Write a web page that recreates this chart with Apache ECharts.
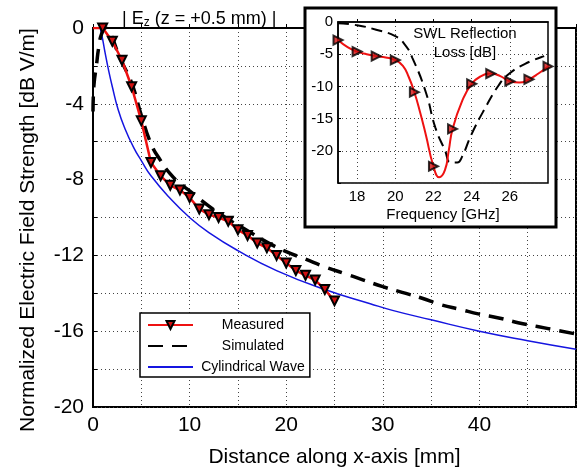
<!DOCTYPE html>
<html><head><meta charset="utf-8">
<script src="https://cdn.jsdelivr.net/npm/echarts@6/dist/echarts.min.js"></script>
<style>html,body{margin:0;padding:0;background:#fff}#c{width:580px;height:470px}</style>
</head><body><div id="c"></div>
<script>
// ---- Main chart data (distance in mm, field in dB V/m) ----
const measuredX = [0, 1, 2, 3, 4, 5, 6, 7, 8, 9, 10, 11, 12, 13, 14, 15, 16, 17, 18, 19, 20, 21, 22, 23, 24, 25];
const measuredY = [0, 0, -0.7, -1.7, -3.1, -4.9, -7.1, -7.8, -8.3, -8.55, -8.95, -9.55, -9.85, -10.0, -10.2, -10.65, -10.95, -11.35, -11.6, -12.0, -12.4, -12.8, -13.05, -13.3, -13.8, -14.4];

const simulatedX = [0, 0.1, 0.35, 0.6, 0.9, 1.3, 1.8, 2.5, 3, 4, 5, 6, 7, 8, 9, 10, 12, 14, 16, 18, 20, 22, 24, 26, 28, 30, 32, 34, 36, 38, 40, 42, 44, 46, 48, 50];
const simulatedY = [-4.4, -3.0, -2.0, -1.0, -0.3, 0, -0.3, -1.2, -1.8, -2.9, -4.6, -6.1, -7.0, -7.7, -8.2, -8.6, -9.4, -10.1, -10.7, -11.3, -11.8, -12.2, -12.6, -12.95, -13.3, -13.65, -13.95, -14.25, -14.6, -14.85, -15.1, -15.3, -15.55, -15.75, -15.95, -16.15];

const cylX = [0.75, 1.0, 1.25, 1.6, 2.0, 2.6, 3.3, 4.2, 5.0, 6.0, 8.0, 10, 12, 15, 19, 24, 28.7, 31, 35, 40, 45, 50];
const cylY = [0, -0.6, -1.3, -2.2, -3.1, -4.3, -5.3, -6.3, -7.0, -7.8, -9.0, -10.0, -10.8, -11.75, -12.8, -13.8, -14.55, -14.9, -15.4, -16.0, -16.5, -16.95];

// ---- Inset data (frequency in GHz, loss in dB) ----
const insetMarkF = [17, 18, 19, 20, 21, 22, 23, 24, 25, 26, 27, 28];
const insetMarkY = [-2.8, -4.6, -5.3, -5.9, -10.9, -22.4, -16.6, -9.6, -8.0, -9.2, -8.9, -6.9];

const insetCurveF = [17, 17.5, 18, 18.5, 19, 19.5, 20, 20.4, 20.7, 21, 21.3, 21.6, 22, 22.3, 22.6, 22.8, 23, 23.5, 24, 24.5, 25, 25.5, 26, 26.5, 27, 27.5, 28];
const insetCurveY = [-2.8, -3.9, -4.6, -5.0, -5.3, -5.5, -5.9, -6.8, -8.5, -10.9, -14.0, -17.5, -22.4, -24.1, -23.0, -20.0, -16.6, -12.3, -9.6, -8.4, -8.0, -8.4, -9.2, -9.4, -8.9, -8.0, -6.9];

const insetSimF = [17, 18, 19, 20, 20.5, 20.9, 21.6, 22.1, 22.6, 22.9, 23.25, 23.5, 24.0, 24.7, 25.4, 25.9, 26.8, 27.8];
const insetSimY = [-0.2, -0.5, -1.2, -2.2, -3.5, -5.6, -10.9, -16.4, -19.9, -21.8, -21.8, -20.9, -17.4, -13.4, -9.9, -8.2, -6.5, -5.3];

const mainXTicks = [0, 10, 20, 30, 40];
const mainYTicks = [0, -4, -8, -12, -16, -20];
const insetXTicks = [18, 20, 22, 24, 26];
const insetYTicks = [0, -5, -10, -15, -20];

const zip = (a, b) => a.map((v, i) => [v, b[i]]);
const FONT = "'Liberation Sans', Arial, sans-serif";
const gridDot = { show: true, lineStyle: { color: '#444', width: 1, type: [1, 3] } };

const measuredData = zip(measuredX, measuredY).map((p, i) => (i === 0 ? { value: p, symbol: 'none' } : p));

const chart = echarts.init(document.getElementById('c'), null, { renderer: 'canvas' });
chart.setOption({
  animation: false,
  backgroundColor: '#fff',
  textStyle: { fontFamily: FONT },
  title: {
    text: '| E{sub|z} (z = +0.5 mm) |',
    left: 117, top: 4,
    textStyle: {
      fontFamily: FONT, fontSize: 18, fontWeight: 'normal', color: '#000',
      rich: { sub: { fontSize: 12, verticalAlign: 'bottom', padding: [8, 0, 0, 0], fontFamily: FONT, color: '#000' } }
    }
  },
  grid: [
    { left: 93, right: 4, top: 28, bottom: 63, outerBoundsMode: 'none', containLabel: false, show: true, borderColor: '#000', borderWidth: 2, backgroundColor: 'transparent' },
    { left: 338, top: 22, width: 210, height: 161, outerBoundsMode: 'none', containLabel: false, show: true, borderColor: '#000', borderWidth: 1.5, z: 15, backgroundColor: 'transparent' }
  ],
  xAxis: [
    {
      gridIndex: 0, type: 'value', min: 0, max: 50, interval: 5,
      axisLine: { show: true, lineStyle: { color: '#000', width: 2 } },
      axisTick: { show: true, inside: true, length: 4, lineStyle: { color: '#000' } },
      axisLabel: { customValues: mainXTicks, fontSize: 21, color: '#000', margin: 8, fontFamily: FONT },
      splitLine: gridDot,
      name: 'Distance along x-axis [mm]', nameLocation: 'middle', nameGap: 40,
      nameTextStyle: { fontSize: 21, color: '#000', fontFamily: FONT }
    },
    {
      gridIndex: 1, type: 'value', min: 17, max: 28, interval: 1, z: 15,
      axisLine: { show: true, lineStyle: { color: '#000', width: 1.5 } },
      axisTick: { show: true, inside: true, length: 3, customValues: insetXTicks, lineStyle: { color: '#000' } },
      axisLabel: { customValues: insetXTicks, fontSize: 15, color: '#000', margin: 6, fontFamily: FONT },
      splitLine: gridDot,
      name: 'Frequency [GHz]', nameLocation: 'middle', nameGap: 24,
      nameTextStyle: { fontSize: 15, color: '#000', fontFamily: FONT }
    }
  ],
  yAxis: [
    {
      gridIndex: 0, type: 'value', min: -20, max: 0, interval: 2,
      axisLine: { show: true, lineStyle: { color: '#000', width: 2 } },
      axisTick: { show: true, inside: true, length: 4, lineStyle: { color: '#000' } },
      axisLabel: { customValues: mainYTicks, fontSize: 21, color: '#000', margin: 9, fontFamily: FONT },
      splitLine: gridDot
    },
    {
      gridIndex: 1, type: 'value', min: -25, max: 0, interval: 5, z: 15,
      axisLine: { show: true, lineStyle: { color: '#000', width: 1.5 } },
      axisTick: { show: true, inside: true, length: 3, lineStyle: { color: '#000' } },
      axisLabel: { customValues: insetYTicks, fontSize: 15, color: '#000', margin: 5, fontFamily: FONT },
      splitLine: gridDot
    }
  ],
  legend: {
    orient: 'vertical', left: 140, top: 313,
    padding: [5, 5, 3, 7], itemGap: 7, itemWidth: 45, itemHeight: 10,
    backgroundColor: '#fff', borderColor: '#000', borderWidth: 1.5, borderRadius: 0,
    data: ['Measured', 'Simulated', 'Cylindrical Wave'],
    formatter: n => '{t|' + n + '}',
    textStyle: { fontFamily: FONT, fontSize: 14, color: '#000', rich: { t: { width: 110, align: 'center', fontSize: 14, fontFamily: FONT, color: '#000' } } }
  },
  graphic: [
    { type: 'rect', z: 10, shape: { x: 305, y: 8, width: 251, height: 219 }, style: { fill: '#fff', stroke: '#000', lineWidth: 3 } },
    { type: 'text', z: 30, x: 465, y: 24, style: { text: 'SWL Reflection\nLoss [dB]', fontSize: 15, fontFamily: FONT, fill: '#000', align: 'center', lineHeight: 19 } },
    { type: 'text', z: 30, x: 28, y: 230, rotation: Math.PI / 2, style: { text: 'Normalized Electric Field Strength [dB V/m]', fontSize: 21, fontFamily: FONT, fill: '#000', align: 'center', verticalAlign: 'middle' } }
  ],
  series: [
    {
      name: 'Cylindrical Wave', type: 'line', xAxisIndex: 0, yAxisIndex: 0, smooth: true,
      data: zip(cylX, cylY), showSymbol: false, symbol: 'circle',
      lineStyle: { color: '#1515e0', width: 1.5 }, itemStyle: { color: 'rgba(0,0,0,0)', borderWidth: 0 }
    },
    {
      name: 'Simulated', type: 'line', xAxisIndex: 0, yAxisIndex: 0, smooth: true,
      data: zip(simulatedX, simulatedY), showSymbol: false, symbol: 'circle',
      lineStyle: { color: '#000', width: 3.5, type: [15, 9] }, itemStyle: { color: 'rgba(0,0,0,0)', borderWidth: 0 }
    },
    {
      name: 'Measured', type: 'line', xAxisIndex: 0, yAxisIndex: 0,
      data: measuredData,
      symbol: 'triangle', symbolRotate: 180, symbolSize: 9,
      lineStyle: { color: '#ee1111', width: 2.5 },
      itemStyle: { color: '#d01010', borderColor: '#000', borderWidth: 2 }
    },
    {
      name: 'insetSim', type: 'line', xAxisIndex: 1, yAxisIndex: 1, smooth: true, z: 20,
      data: zip(insetSimF, insetSimY), showSymbol: false, symbol: 'none',
      lineStyle: { color: '#000', width: 2, type: [11, 6] }
    },
    {
      name: 'insetCurve', type: 'line', xAxisIndex: 1, yAxisIndex: 1, smooth: true, z: 21,
      data: zip(insetCurveF, insetCurveY), showSymbol: false, symbol: 'none',
      lineStyle: { color: '#ee1111', width: 2 }
    },
    {
      name: 'insetMarks', type: 'scatter', xAxisIndex: 1, yAxisIndex: 1, z: 22,
      data: zip(insetMarkF, insetMarkY), symbol: 'triangle', symbolRotate: -90, symbolSize: 9,
      itemStyle: { color: '#d01010', borderColor: '#000', borderWidth: 2 }
    }
  ]
});
</script></body></html>
